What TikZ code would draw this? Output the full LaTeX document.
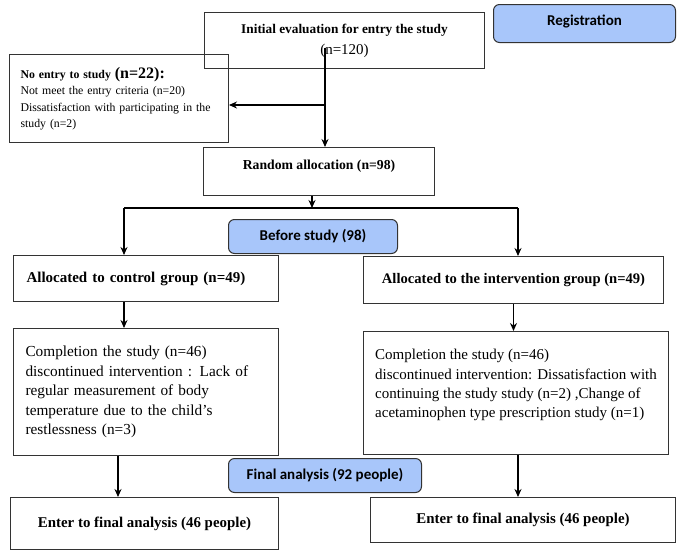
\documentclass[tikz,border=0pt]{standalone}
\usepackage{fontspec}
\setmainfont{Liberation Serif}
\newfontfamily\calibrifont{Carlito}
\usetikzlibrary{arrows.meta}
\definecolor{stageblue}{HTML}{A8C6FA}

\begin{document}
\begin{tikzpicture}[x=1pt, y=-1pt, >={Stealth[length=8pt, width=7pt]},
    box/.style={draw=black!80, line width=1pt, anchor=north west, inner ysep=0pt},
    stage/.style={draw=black!80, line width=1pt, rounded corners=6pt, fill=stageblue,
      anchor=north west, inner sep=0pt, font=\calibrifont\bfseries\fontsize{15}{18}\selectfont},
    link/.style={line width=1.1pt}]
    % Limites
    \useasboundingbox (0,0) rectangle (685,555);

    % Caixas
    \node[box, minimum width=280pt, minimum height=56pt, align=center,
      font=\fontsize{15}{21}\selectfont] (init) at (204,12)
      {{\bfseries\fontsize{13.3}{21}\selectfont Initial evaluation for entry the study}\\(n=120)};
    \node[stage, minimum width=182pt, minimum height=38pt, text depth=6pt] (reg) at (493,4) {Registration};
    \node[box, minimum width=219pt, minimum height=88pt, text width=197pt, inner xsep=11pt, align=left,
      font=\fontsize{11.8}{16.5}\selectfont] (noentry) at (9,54)
      {\textbf{No entry to study} {\bfseries\fontsize{16}{16.5}\selectfont(n=22):}\\
       Not meet the entry criteria (n=20)\\
       Dissatisfaction with participating in the\\
       study (n=2)};
    \node[box, minimum width=231pt, minimum height=48pt, text height=10pt, text depth=14pt,
      font=\bfseries\fontsize{13.7}{16}\selectfont] (rand) at (203,147) {Random allocation (n=98)};
    \node[stage, minimum width=169pt, minimum height=34pt] (before) at (228,219) {Before study (98)};
    \node[box, minimum width=265pt, minimum height=46pt, text width=239pt, inner xsep=13pt, align=left,
      font=\bfseries\fontsize{15}{18}\selectfont] (ctrl) at (13,255) {Allocated to control group (n=49)};
    \node[box, minimum width=300pt, minimum height=47pt, inner xsep=8pt,
      font=\bfseries\fontsize{14.6}{18}\selectfont] (intv) at (363,256) {Allocated to the intervention group (n=49)};
    \node[box, minimum width=265pt, minimum height=127pt, text width=241pt, inner xsep=12pt, align=left,
      font=\fontsize{15.3}{19.5}\selectfont] (complL) at (13,328)
      {Completion the study (n=46)\\
       discontinued intervention : Lack of\\
       regular measurement of body\\
       temperature due to the child’s\\
       restlessness (n=3)};
    \node[box, minimum width=305pt, minimum height=123pt, inner xsep=6pt, align=left,
      font=\fontsize{15}{19.2}\selectfont] (complR) at (363,331)
      {Completion the study (n=46)\\
       discontinued intervention: Dissatisfaction with\\
       continuing the study study (n=2) ,Change of\\
       acetaminophen type prescription study (n=1)\\
       \mbox{}};
    \node[stage, minimum width=193pt, minimum height=34pt] (final) at (228,458) {Final analysis (92 people)};
    \node[box, minimum width=268pt, minimum height=52pt,
      font=\bfseries\fontsize{14.9}{18}\selectfont] (enterL) at (10,497) {Enter to final analysis (46 people)};
    \node[box, minimum width=305pt, minimum height=45pt,
      font=\bfseries\fontsize{14.9}{18}\selectfont] (enterR) at (370,497) {Enter to final analysis (46 people)};

    % Pontos de ligacao
    \coordinate (split) at (325,48);
    \coordinate (side) at (325,105);
    \coordinate (fork) at (312,208);
    \coordinate (forkL) at (124,208);
    \coordinate (forkR) at (518,208);

    % Setas
    \draw[link, ->] (split) -- (split |- rand.north);
    \draw[link, ->] (side) -- (side -| noentry.east);
    \draw[link, ->] (fork |- rand.south) -- (fork);
    \draw[link] (forkL) -- (forkR);
    \draw[link, ->] (forkL) -- (forkL |- ctrl.north);
    \draw[link, ->] (forkR) -- (forkR |- intv.north);
    \draw[link, ->] (ctrl.south -| forkL) -- (forkL |- complL.north);
    \draw[link, ->] (intv.south) -- (intv.south |- complR.north);
    \draw[link, ->] (complL.south -| 118,0) -- (enterL.north -| 118,0);
    \draw[link, ->] (complR.south -| forkR) -- (enterR.north -| forkR);
\end{tikzpicture}
\end{document}
